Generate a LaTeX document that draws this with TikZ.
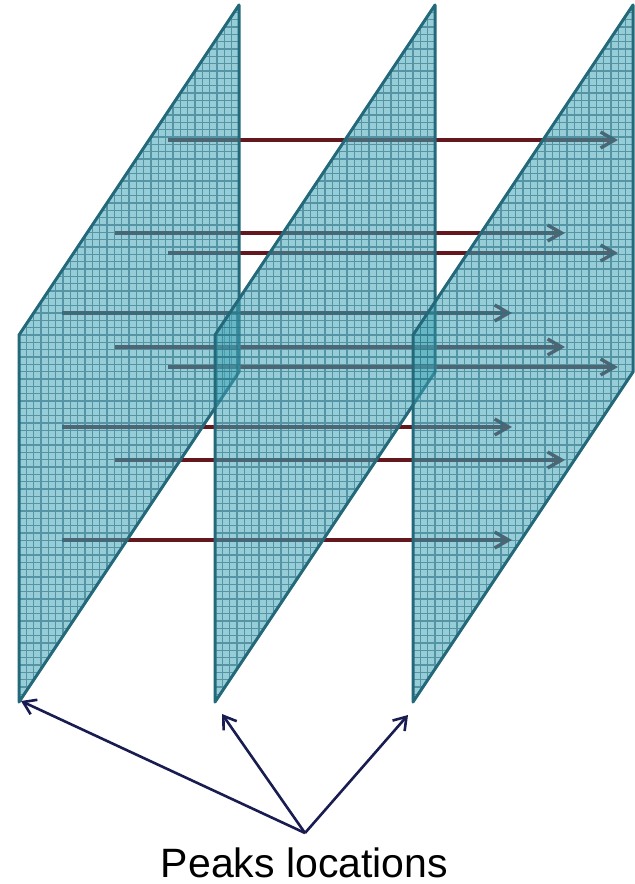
\documentclass[tikz,border=0pt]{standalone}
\usepackage{fontspec}
\newfontfamily\peakfont{Liberation Sans}
\usepackage{tikz}
\usetikzlibrary{arrows.meta, calc}
\definecolor{pkfill}{RGB}{64,164,182}
\definecolor{pkline}{RGB}{35,105,122}
\definecolor{pkgrid}{RGB}{40,112,132}
\definecolor{pkray}{RGB}{100,24,30}
\definecolor{pknavy}{RGB}{24,28,80}
\tikzset{
  >={Straight Barb[length=7pt, width=8pt]},
  pk plane/.style={fill=pkfill, fill opacity=0.55},
  pk grid/.style={draw=pkgrid, line width=0.55pt, draw opacity=0.6},
  pk edge/.style={draw=pkline, line width=1.5pt, line join=round},
  pk ray/.style={draw=pkray, ->, line width=1.7pt},
  pk pointer/.style={draw=pknavy, ->, line width=1.3pt,
    >={Straight Barb[length=6pt, width=8pt]}},
  pk label/.style={font=\peakfont\fontsize{20.5}{24}\selectfont, inner sep=0pt,
    text=black},
}

\begin{document}
\begin{tikzpicture}[x=0.5pt, y=-0.5pt]
 \useasboundingbox (0,0) rectangle (634,884);
 % rays go first: the planes are see-through and tint them
 \foreach \xs/\yr in {168/140, 115/233, 168/253, 62/313, 115/347,
                      168/367, 62/427, 115/460, 62/540}{
   \coordinate (s\yr) at (\xs,\yr);
   \coordinate (e\yr) at (\xs+450,\yr);
   \draw[pk ray] (s\yr) -- (e\yr);
 }
 \foreach \px [count=\k] in {19,215,413}{
   \path[pk plane] (\px,702) -- (\px,335) -- (\px+220,5) -- (\px+220,372) -- cycle;
   \begin{scope}
     \clip (\px,702) -- (\px,335) -- (\px+220,5) -- (\px+220,372) -- cycle;
     \draw[pk grid]
       \foreach \i in {1,...,29}{ ({\px+\i*220/30},0) -- ++(0,710) }
       \foreach \j in {1,...,95}{ (\px,{5+\j*7.333}) -- ++(220,0) };
   \end{scope}
   \draw[pk edge] (\px,702) -- (\px,335) -- (\px+220,5) -- (\px+220,372) -- cycle;
 }
 \coordinate (peak1) at (21,701);
 \coordinate (peak2) at (222,714);
 \coordinate (peak3) at (408,715);
 \coordinate (apex) at (305,833);
 \node[pk label, anchor=base] (lbl) at (304.5,877) {Peaks locations};
 \draw[pk pointer] (apex) -- (peak1);
 \draw[pk pointer] (apex) -- (peak2);
 \draw[pk pointer] (apex) -- (peak3);
\end{tikzpicture}
\end{document}
